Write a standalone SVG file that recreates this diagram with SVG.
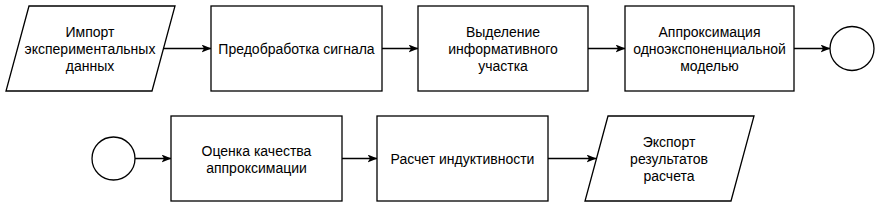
<svg xmlns="http://www.w3.org/2000/svg" width="886" height="215" viewBox="0 0 886 215">
<style>
.s{fill:#fff;stroke:#000;stroke-width:1.3}
.t{font-family:"Liberation Sans",Arial,sans-serif;font-size:14px;fill:#000;text-anchor:middle}
.c{stroke:#000;stroke-width:1.3;fill:none;marker-end:url(#a)}
</style>
<defs>
<marker id="a" markerWidth="10" markerHeight="8" refX="9.5" refY="4" orient="auto" markerUnits="userSpaceOnUse">
<path d="M0,0 L10,4 L0,8 L2.5,4 Z" fill="#000"/>
</marker>
</defs>
<rect width="886" height="215" fill="#fff"/>
<g id="connectors">
<line class="c" x1="163" y1="48.5" x2="211" y2="48.5"/>
<line class="c" x1="382" y1="48.5" x2="418" y2="48.5"/>
<line class="c" x1="588" y1="48.5" x2="625" y2="48.5"/>
<line class="c" x1="794" y1="48.5" x2="830" y2="48.5"/>
<line class="c" x1="135" y1="158.5" x2="171" y2="158.5"/>
<line class="c" x1="342" y1="158.5" x2="377" y2="158.5"/>
<line class="c" x1="548" y1="158.5" x2="596" y2="158.5"/>
</g>
<g id="n1">
<polygon class="s" points="29,6 175,6 152,91 6,91"/>
<text class="t" x="90" y="37">Импорт</text>
<text class="t" x="90" y="54">экспериментальных</text>
<text class="t" x="90" y="71">данных</text>
</g>
<g id="n2">
<rect class="s" x="211" y="6" width="171" height="85"/>
<text class="t" x="296.5" y="53.5">Предобработка сигнала</text>
</g>
<g id="n3">
<rect class="s" x="418" y="6" width="170" height="85"/>
<text class="t" x="503" y="37">Выделение</text>
<text class="t" x="503" y="54">информативного</text>
<text class="t" x="503" y="71">участка</text>
</g>
<g id="n4">
<rect class="s" x="625" y="6" width="169" height="85"/>
<text class="t" x="709.5" y="37">Аппроксимация</text>
<text class="t" x="709.5" y="54">одноэкспоненциальной</text>
<text class="t" x="709.5" y="71">моделью</text>
</g>
<g id="n5">
<circle class="s" cx="852" cy="48.5" r="22"/>
</g>
<g id="n6">
<circle class="s" cx="113.5" cy="158.5" r="21.5"/>
</g>
<g id="n7">
<rect class="s" x="171" y="116" width="171" height="85"/>
<text class="t" x="256.5" y="156">Оценка качества</text>
<text class="t" x="256.5" y="173">аппроксимации</text>
</g>
<g id="n8">
<rect class="s" x="377" y="116" width="171" height="85"/>
<text class="t" x="462.5" y="163.5">Расчет индуктивности</text>
</g>
<g id="n9">
<polygon class="s" points="608,116 754,116 731,201 585,201"/>
<text class="t" x="669" y="147">Экспорт</text>
<text class="t" x="669" y="164">результатов</text>
<text class="t" x="669" y="181">расчета</text>
</g>
</svg>
